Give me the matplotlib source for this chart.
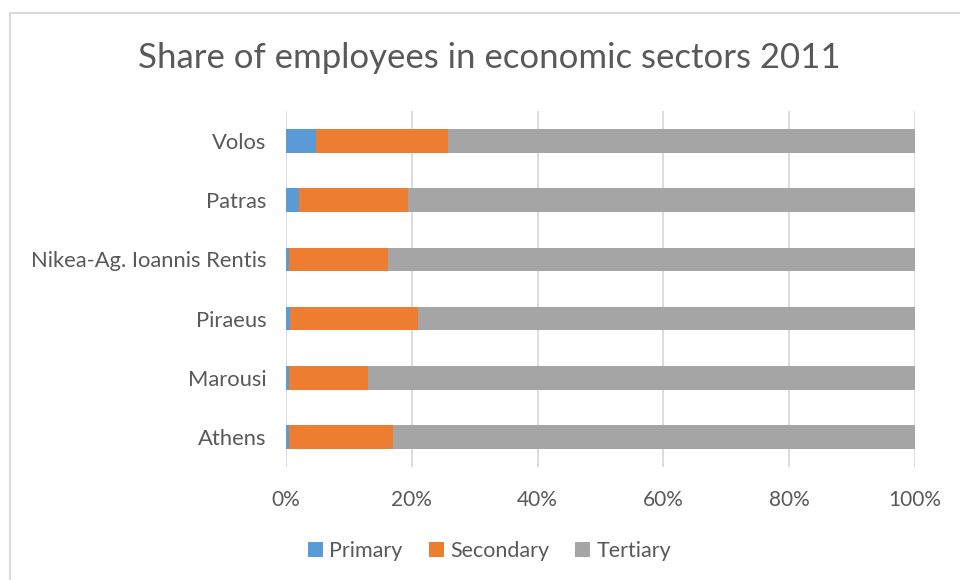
import matplotlib
matplotlib.use('Agg')
import matplotlib.pyplot as plt
from matplotlib.lines import Line2D
import numpy as np

# shares in percent, listed bottom to top
cities = ['Athens', 'Marousi', 'Piraeus', 'Nikea-Ag. Ioannis Rentis', 'Patras', 'Volos']
primary = [0.4, 0.4, 0.6, 0.4, 2.1, 4.7]
secondary = [16.6, 12.7, 20.4, 15.8, 17.3, 21.1]
tertiary = [100 - p - s for p, s in zip(primary, secondary)]

ticks = [0, 20, 40, 60, 80, 100]
tick_labels = ['0%', '20%', '40%', '60%', '80%', '100%']

col = {'Primary': '#5B9BD5', 'Secondary': '#ED7D31', 'Tertiary': '#A5A5A5'}
txt = '#595959'
grid = '#D9D9D9'

plt.rcParams['font.family'] = ['Lato', 'DejaVu Sans']

fig = plt.figure(figsize=(9.6, 5.8), dpi=100)
ax = fig.add_axes([0.298, 0.1955, 0.655, 0.6125])

y = np.arange(len(cities))
h = 0.4
p = np.array(primary)
s = np.array(secondary)
t = np.array(tertiary)
ax.barh(y, p, height=h, color=col['Primary'], label='Primary', zorder=3)
ax.barh(y, s, left=p, height=h, color=col['Secondary'], label='Secondary', zorder=3)
ax.barh(y, t, left=p + s, height=h, color=col['Tertiary'], label='Tertiary', zorder=3)

ax.set_xlim(0, 100)
ax.set_ylim(-0.5, len(cities) - 0.5)
ax.set_xticks(ticks)
ax.set_xticklabels(tick_labels)
ax.set_yticks(y)
ax.set_yticklabels(cities)
for sp in ax.spines.values():
    sp.set_visible(False)
ax.xaxis.grid(True, color=grid, linewidth=1.3, zorder=0)
ax.set_axisbelow(True)
ax.tick_params(axis='both', length=0, labelcolor=txt)
ax.tick_params(axis='x', pad=17, labelsize=15)
ax.tick_params(axis='y', pad=14, labelsize=15.8)

fig.text(0.51, 0.9, 'Share of employees in economic sectors 2011',
         ha='center', va='center', fontsize=25, color=txt)

handles, labels = ax.get_legend_handles_labels()
fig.legend(handles, labels, loc='center', bbox_to_anchor=(0.51, 0.05), ncol=3,
           frameon=False, fontsize=15.5, labelcolor=txt, handlelength=0.7,
           handleheight=0.7, handletextpad=0.3, columnspacing=1.2)

# chart frame edges
fig.add_artist(Line2D([0.0105, 0.0105], [0, 1 - 13 / 580], color=grid, lw=1.5))
fig.add_artist(Line2D([0.0105, 1], [1 - 13 / 580, 1 - 13 / 580], color=grid, lw=1.5))

fig.savefig('out.png', dpi=100)
